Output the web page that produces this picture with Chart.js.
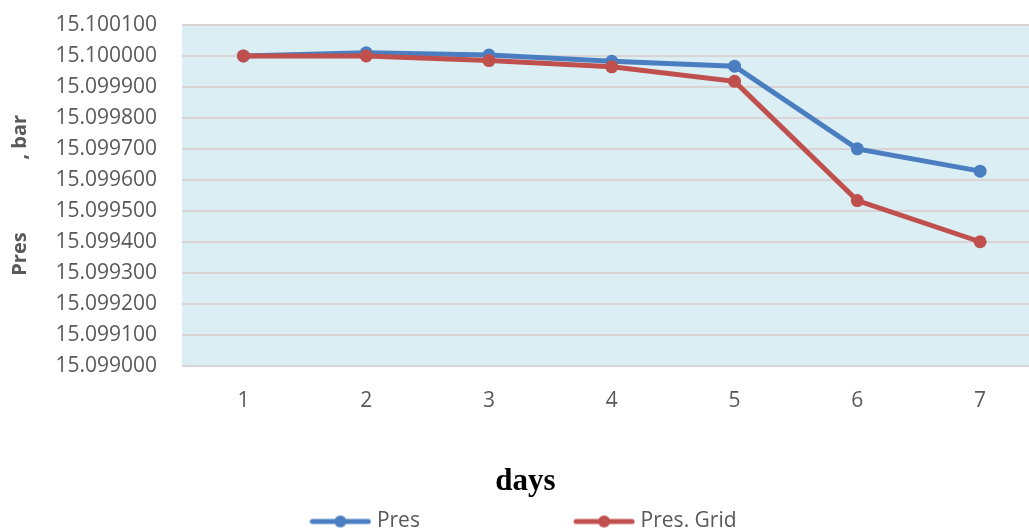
<!DOCTYPE html>
<html>
<head>
<meta charset="utf-8">
<script src="https://cdn.jsdelivr.net/npm/chart.js@4.4.1/dist/chart.umd.min.js"></script>
<style>
  html, body { margin: 0; padding: 0; background: #fff; overflow: hidden; }
  #wrap { width: 1048px; height: 531px; }
</style>
</head>
<body>
<div id="wrap"><canvas id="chart" width="1048" height="531"></canvas></div>
<script>
const days = ["1", "2", "3", "4", "5", "6", "7"];
const pres = [15.100000, 15.100010, 15.100003, 15.099983, 15.099967, 15.099700, 15.099628];
const presGrid = [15.100000, 15.100000, 15.099985, 15.099965, 15.099918, 15.099533, 15.099400];
const yTicks = [15.0990, 15.0991, 15.0992, 15.0993, 15.0994, 15.0995, 15.0996, 15.0997, 15.0998, 15.0999, 15.1000, 15.1001];

const blue = "#4A7EC0";
const red = "#C0504D";
const gray = "#595959";

// legend marker: short line with a dot in the middle, like Excel
function makeMarker(color) {
  const c = document.createElement("canvas");
  c.width = 62;
  c.height = 14;
  const g = c.getContext("2d");
  g.strokeStyle = color;
  g.lineWidth = 5;
  g.lineCap = "round";
  g.beginPath();
  g.moveTo(3, 7);
  g.lineTo(59, 7);
  g.stroke();
  g.fillStyle = color;
  g.beginPath();
  g.arc(31, 7, 6, 0, Math.PI * 2);
  g.fill();
  return c;
}
const markers = [makeMarker(blue), makeMarker(red)];

const plotBg = {
  id: "plotBg",
  beforeDraw(chart) {
    const { ctx, chartArea } = chart;
    ctx.save();
    ctx.fillStyle = "#DBEEF4";
    ctx.fillRect(chartArea.left, chartArea.top, chartArea.right - chartArea.left, chartArea.bottom - chartArea.top);
    ctx.restore();
  },
};

const ctx = document.getElementById("chart").getContext("2d");
new Chart(ctx, {
  type: "line",
  data: {
    labels: days,
    datasets: [
      {
        label: "Pres",
        data: pres,
        borderColor: blue,
        backgroundColor: blue,
        borderWidth: 5,
        pointRadius: 6.5,
        pointBackgroundColor: blue,
        pointBorderWidth: 0,
        order: 1,
      },
      {
        label: "Pres. Grid",
        data: presGrid,
        borderColor: red,
        backgroundColor: red,
        borderWidth: 5,
        pointRadius: 6.5,
        pointBackgroundColor: red,
        pointBorderWidth: 0,
        order: 0,
      },
    ],
  },
  options: {
    responsive: false,
    animation: false,
    layout: {
      padding: { left: 8, top: 25, right: 5, bottom: -11 },
    },
    scales: {
      x: {
        offset: true,
        grid: { display: false },
        border: { display: false },
        ticks: {
          color: gray,
          padding: 15,
          font: { family: "Open Sans", size: 21 },
        },
      },
      y: {
        min: 15.099,
        max: 15.1001,
        afterBuildTicks: (axis) => {
          axis.ticks = yTicks.map((v) => ({ value: v }));
        },
        afterFit: (axis) => {
          axis.width = 174;
          axis.paddingTop = 0;
          axis.paddingBottom = 0;
        },
        grid: {
          color: "#D9D3D5",
          lineWidth: 2,
          drawTicks: false,
        },
        border: { display: false },
        ticks: {
          autoSkip: false,
          color: gray,
          padding: 25,
          font: { family: "Open Sans", size: 21 },
          callback: (v) => Number(v).toFixed(6),
        },
        title: {
          display: true,
          text: "Pres              , bar",
          color: gray,
          font: { family: "Open Sans", size: 20, weight: "bold" },
          padding: { top: 0, bottom: 0 },
        },
      },
    },
    plugins: {
      title: {
        display: true,
        position: "bottom",
        weight: 500,
        text: "days",
        color: "#000",
        font: { family: "Liberation Serif", size: 31, weight: "bold" },
        padding: { top: 35, bottom: 10 },
      },
      legend: {
        position: "bottom",
        labels: {
          usePointStyle: true,
          pointStyleWidth: 52,
          padding: 0,
          color: gray,
          font: { family: "Open Sans", size: 21 },
          sort: (a, b) => a.datasetIndex - b.datasetIndex,
          generateLabels: (chart) => {
            const items = Chart.defaults.plugins.legend.labels.generateLabels(chart);
            items.forEach((item) => {
              item.pointStyle = markers[item.datasetIndex];
              // Excel leaves a wide gap between the two entries
              if (item.datasetIndex === 0) item.text = item.text + " ".repeat(29);
            });
            return items;
          },
        },
      },
      tooltip: { enabled: false },
    },
  },
  plugins: [plotBg],
});
</script>
</body>
</html>
